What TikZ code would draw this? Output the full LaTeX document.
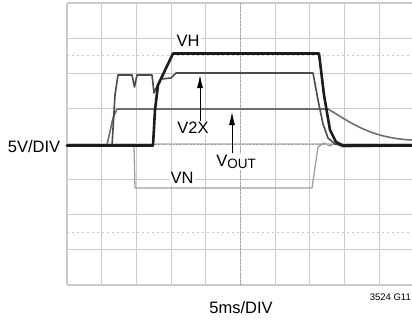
\documentclass[tikz,border=0pt]{standalone}
\usepackage{fontspec}
\setmainfont{Liberation Sans}
\usepackage{xcolor}
\usetikzlibrary{arrows.meta}
\definecolor{gridgray}{HTML}{CACACA}
\definecolor{ctrgray}{HTML}{A0A0A0}
\definecolor{vhcol}{HTML}{1C1C1C}
\definecolor{vtwocol}{HTML}{4A4A4A}
\definecolor{voutcol}{HTML}{6E6E6E}
\definecolor{vncol}{HTML}{A0A0A0}

\begin{document}
\begin{tikzpicture}[x=1pt,y=-1pt,
    gridln/.style={gridgray, line width=1.1pt},
    ctrln/.style={ctrgray, line width=0.9pt, dash pattern=on 2pt off 1.5pt},
    dotln/.style={gridgray, line width=0.9pt, dash pattern=on 2pt off 3pt},
    lbl/.style={fill=white, inner sep=1.5pt, font=\fontsize{16.5}{18}\selectfont},
    arr/.style={-{Latex[length=13pt,width=6pt]}, line width=0.8pt, black},
    trace/.style={line join=round, line cap=round}]
    \useasboundingbox (0,0) rectangle (412,322);
    \clip (0,0) rectangle (412,322);
    \foreach \i in {0,...,10}
      \draw[gridln] ({67+34.7*\i},3) -- ({67+34.7*\i},285);
    \foreach \j in {0,...,8}
      \draw[gridln] (67,{3+35.25*\j}) -- (414,{3+35.25*\j});
    \draw[ctrln] (240.5,3) -- (240.5,285);
    \draw[ctrln] (67,144) -- (414,144);
    \draw[dotln] (67,55) -- (414,55);
    \draw[dotln] (67,232) -- (414,232);
    \draw[trace, vncol, line width=1.3pt] (67,146) -- (134,146) -- (135,188) -- (312,188)
      -- (318,147) -- (324,143) -- (330,146) -- (336,143) -- (342,147) -- (412,146);
    \draw[trace, voutcol, line width=1.6pt] (67,146) -- (107,145) -- (113,118) -- (117,109)
      -- (328,109) .. controls (350,122) and (370,138) .. (412,140);
    \draw[trace, vtwocol, line width=1.6pt] (67,146) -- (112,146) -- (115,95) -- (118,75)
      -- (132,75) -- (134.5,87) -- (137,75) -- (152,75) -- (154,93) -- (157,86) -- (161,79)
      -- (171,78) -- (176,73) -- (313,73) -- (318,100) -- (323,124) -- (328,138)
      -- (335,144) -- (343,146) -- (412,146);
    \draw[trace, vhcol, line width=2.6pt] (67,145.5) -- (153,145.5) -- (155,110) -- (158,85)
      -- (173,53.5) -- (319,53.5) -- (324,95) -- (330,130) -- (336,142) -- (343,145.5)
      -- (412,145.5);
    \node[lbl, fill=none] (lfs) at (34,147) {5V/DIV};
    \node[lbl] (lvh) at (188,41) {VH};
    \node[lbl] (lv2x) at (193,128) {V2X};
    \node[lbl] (lvout) at (236,162) {V{\fontsize{13.5}{13}\selectfont\raisebox{-2.5pt}{OUT}}};
    \node[lbl] (lvn) at (182,178) {VN};
    \node[lbl, fill=none] (ltime) at (241,308) {5ms/DIV};
    \node[anchor=east, inner sep=0pt, font=\fontsize{9.5}{10}\selectfont] (lfig) at (411,297) {3524 G11};
    \coordinate (v2xtip) at (200,75);
    \coordinate (vouttip) at (232,112);
    \draw[arr] (lv2x.north -| v2xtip) -- (v2xtip);
    \draw[arr] (lvout.north -| vouttip) -- (vouttip);
\end{tikzpicture}
\end{document}
